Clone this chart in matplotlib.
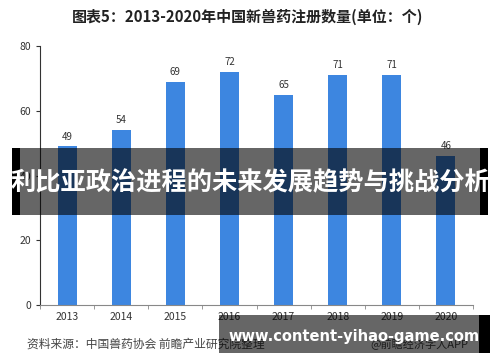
import matplotlib
matplotlib.use("Agg")
import matplotlib.pyplot as plt
from matplotlib.patches import Rectangle

plt.rcParams['font.family'] = ['Noto Sans CJK SC', 'DejaVu Sans']

years = ['2013', '2014', '2015', '2016', '2017', '2018', '2019', '2020']
counts = [49, 54, 69, 72, 65, 71, 71, 46]
title = '图表5：2013-2020年中国新兽药注册数量(单位：个)'
source = '资料来源：中国兽药协会 前瞻产业研究院整理'
credit = '@前瞻经济学人APP'
banner = '利比亚政治进程的未来发展趋势与挑战分析'
url = 'www.content-yihao-game.com'

W, H = 500, 362
fig = plt.figure(figsize=(W/100, H/100), dpi=100)
ax = fig.add_axes([40/W, 1-305/H, 433/W, 259/H])

x = list(range(len(years)))
ax.bar(x, counts, width=0.35, color='#3d86e0', zorder=2)
for xi, v in zip(x, counts):
    ax.text(xi, v + 1.5, str(v), ha='center', va='bottom', fontsize=7, color='#333333')

ax.set_xlim(-0.5, len(years) - 0.5)
ax.set_ylim(0, 80)
ax.set_yticks([0, 20, 40, 60, 80])
ax.set_xticks(x)
ax.set_xticklabels(years)
ax.set_xticks([i - 0.5 for i in range(len(years) + 1)], minor=True)
ax.tick_params(axis='x', which='major', length=0, labelsize=7.5, colors='#333333', pad=5)
ax.tick_params(axis='x', which='minor', length=3, color='#888888', direction='out')
ax.tick_params(axis='y', length=3, labelsize=7.5, colors='#333333', color='#333333')
for s in ['top', 'right']:
    ax.spines[s].set_visible(False)
ax.spines['left'].set_color('#333333')
ax.spines['left'].set_linewidth(0.8)
ax.spines['bottom'].set_color('#888888')
ax.spines['bottom'].set_linewidth(0.8)

fig.text(0.495, 1-17/H, title, ha='center', va='center', fontsize=10.8, fontweight='bold', color='#222222')
fig.text(27/W, 1-344/H, source, ha='left', va='center', fontsize=8.5, color='#444444')
fig.text(370/W, 1-344/H, credit, ha='left', va='center', fontsize=8, color='#444444')

# banner overlay
fig.patches.append(Rectangle((12/W, 1-215/H), 476/W, 67/H, transform=fig.transFigure,
                             facecolor='black', alpha=0.6, edgecolor='none', zorder=10))
fig.patches.append(Rectangle((12/W, 1-215/H), 8/W, 67/H, transform=fig.transFigure,
                             facecolor='black', edgecolor='none', zorder=11))
fig.patches.append(Rectangle((480/W, 1-215/H), 8/W, 67/H, transform=fig.transFigure,
                             facecolor='black', edgecolor='none', zorder=11))
fig.text(0.5, 1-183/H, banner, ha='center', va='center', fontsize=18.2, fontweight='bold',
         color='white', zorder=12)

# url overlay
fig.patches.append(Rectangle((219/W, 1-353/H), 260/W, 38/H, transform=fig.transFigure,
                             facecolor='black', alpha=0.6, edgecolor='none', zorder=10))
fig.patches.append(Rectangle((479/W, 1-353/H), 11/W, 38/H, transform=fig.transFigure,
                             facecolor='black', edgecolor='none', zorder=11))
fig.text(354/W, 1-337/H, url, ha='center', va='center', fontsize=10.5, fontweight='bold',
         color='white', family=['DejaVu Sans'], zorder=12)

fig.savefig('out.png', dpi=100)
